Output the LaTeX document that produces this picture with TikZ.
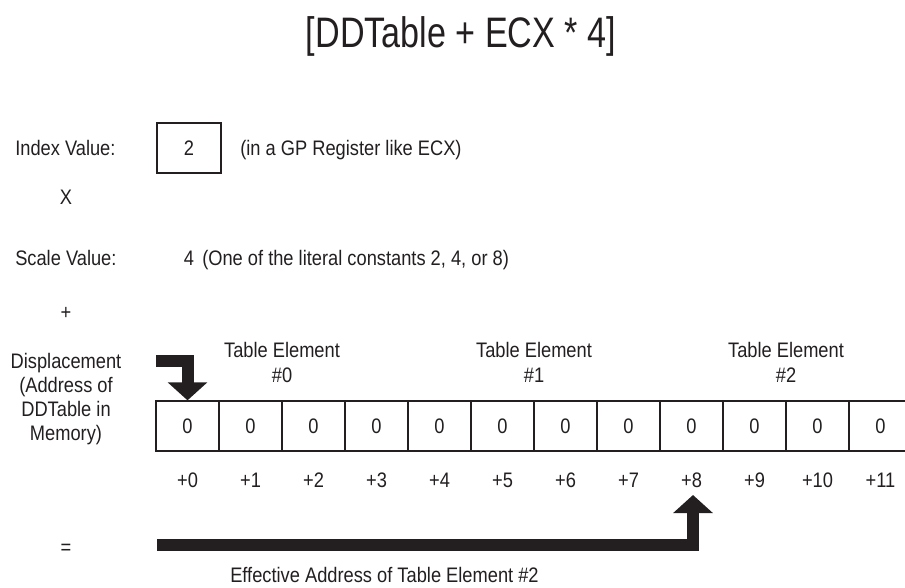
\documentclass[tikz,border=0pt]{standalone}
\usepackage{fontspec}
\setmainfont[FakeStretch=0.87]{Liberation Sans}
\newfontfamily\titlefont[FakeStretch=0.8]{Liberation Sans}
\usetikzlibrary{arrows.meta}
\definecolor{ink}{HTML}{231F20}
\begin{document}
\begin{tikzpicture}[x=0.75pt, y=-0.75pt,
        every node/.style={font=\fontsize{15.75pt}{18pt}\selectfont, text=ink},
        cell/.style={rectangle, draw=ink, line width=1pt,
          minimum width=47.25pt, minimum height=37.5pt, inner sep=0pt},
        lab/.style={anchor=base west, inner sep=0pt},
        grp/.style={align=center,
          font=\fontsize{15.75pt}{18.75pt}\selectfont},
        fatarrow/.style={draw=ink, line width=9pt, line join=miter,
          -{Triangle[width=29pt, length=13.5pt]}}
      ]
      \clip (0,0) rectangle (905,587);
      \node[font=\titlefont\fontsize{32pt}{36pt}\selectfont, anchor=base,
        inner sep=0pt] (title) at (461,47) {[DDTable + ECX * 4]};
      % operands
      \node[lab] (idxlab) at (15,155.5) {Index Value:};
      \node[cell, minimum width=48pt] (idx) at (189,148) {2};
      \node[lab] (idxnote) at (240,155.5) {(in a GP Register like ECX)};
      \node (times) at (66,197) {X};
      \node[lab] (sclab) at (15,265.5) {Scale Value:};
      \node (sc) at (189,258) {4};
      \node[lab] (scnote) at (202,265.5) {(One of the literal constants 2, 4, or 8)};
      \node (plus) at (66,313) {+};
      \node[align=center] (disp) at (66,399)
      {Displacement\\(Address of\\DDTable in\\Memory)};
      \node (equals) at (66,549) {=};
      % table elements
      \node[grp] (el0) at (282,362.5) {Table Element\\\#0};
      \node[grp] (el1) at (534,362.5) {Table Element\\\#1};
      \node[grp] (el2) at (786,362.5) {Table Element\\\#2};
      \node[cell] (c0)  at (187.5,426) {0};
      \node[cell] (c1)  at (250.5,426) {0};
      \node[cell] (c2)  at (313.5,426) {0};
      \node[cell] (c3)  at (376.5,426) {0};
      \node[cell] (c4)  at (439.5,426) {0};
      \node[cell] (c5)  at (502.5,426) {0};
      \node[cell] (c6)  at (565.5,426) {0};
      \node[cell] (c7)  at (628.5,426) {0};
      \node[cell] (c8)  at (691.5,426) {0};
      \node[cell] (c9)  at (754.5,426) {0};
      \node[cell] (c10) at (817.5,426) {0};
      \node[cell] (c11) at (880.5,426) {0};
      % byte offsets
      \node (o0)  at (187.5,480) {+0};
      \node (o1)  at (250.5,480) {+1};
      \node (o2)  at (313.5,480) {+2};
      \node (o3)  at (376.5,480) {+3};
      \node (o4)  at (439.5,480) {+4};
      \node (o5)  at (502.5,480) {+5};
      \node (o6)  at (565.5,480) {+6};
      \node (o7)  at (628.5,480) {+7};
      \node (o8)  at (691.5,480) {+8};
      \node (o9)  at (754.5,480) {+9};
      \node (o10) at (817.5,480) {+10};
      \node (o11) at (880.5,480) {+11};
      \node[lab] (ealab) at (230,582.5) {Effective Address of Table Element \#2};
      % arrows
      \coordinate (dstart) at (156,361);
      \coordinate (estart) at (157,544.5);
      \coordinate (etip) at (693,495);
      \draw[fatarrow] (dstart) -| (c0.north);
      \draw[fatarrow] (estart) -| (etip);
    \end{tikzpicture}
\end{document}
